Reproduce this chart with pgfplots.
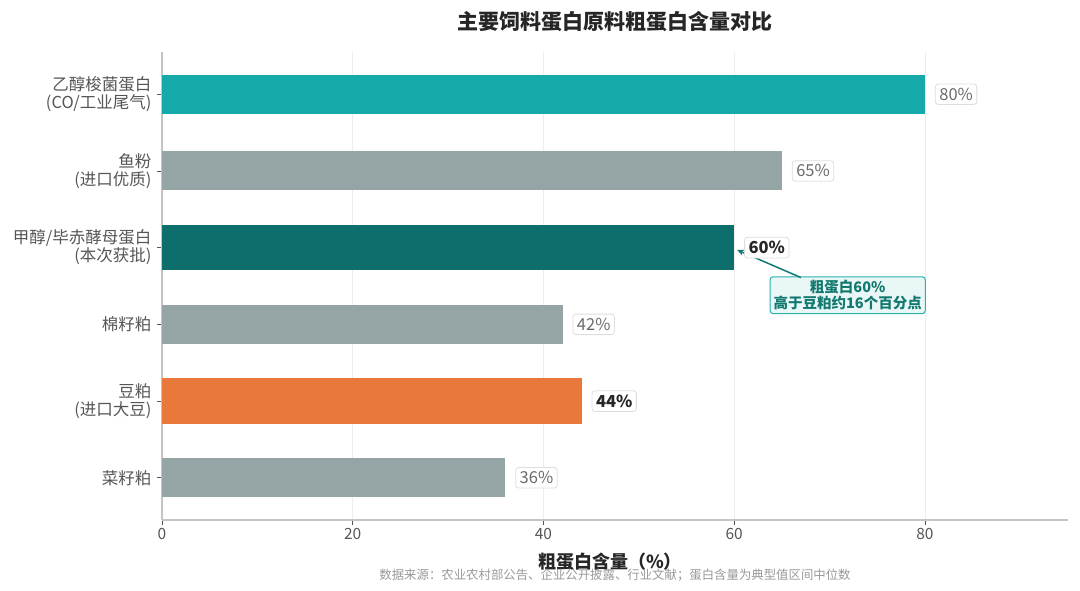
\documentclass[border=0pt]{standalone}
\usepackage{fontspec}
\setmainfont{Noto Sans CJK SC}
\usepackage{pgfplots}
\pgfplotsset{compat=1.18}
\usetikzlibrary{arrows.meta}

\definecolor{barTeal}{HTML}{15A9A9}
\definecolor{barGrey}{HTML}{95A5A6}
\definecolor{barDark}{HTML}{0E6E6B}
\definecolor{barOrange}{HTML}{E8793B}
\definecolor{spine}{HTML}{C4C4C4}
\definecolor{gridc}{HTML}{EDEDED}
\definecolor{labgray}{HTML}{555555}
\definecolor{valgray}{HTML}{6A6A6A}
\definecolor{boxc}{HTML}{DDDDDD}
\definecolor{annFill}{HTML}{E9F8F7}
\definecolor{annDraw}{HTML}{2BB1AD}
\definecolor{annText}{HTML}{13786F}
\definecolor{arrowc}{HTML}{127A74}

\begin{document}
\begin{tikzpicture}
\useasboundingbox (-162pt,-70pt) rectangle (918pt,520pt);
\begin{axis}[
    at={(0pt,0pt)}, anchor=south west,
    scale only axis,
    width=906pt, height=468pt,
    xbar, bar shift=0pt,
    xmin=0, xmax=95,
    ymin=-0.55, ymax=5.55,
    y dir=reverse,
    xtick={0,20,40,60,80},
    ytick={0,1,2,3,4,5},
    yticklabels={
        {乙醇梭菌蛋白\\(CO/工业尾气)},
        {鱼粉\\(进口优质)},
        {甲醇/毕赤酵母蛋白\\(本次获批)},
        {棉籽粕},
        {豆粕\\(进口大豆)},
        {菜籽粕}},
    yticklabel style={align=right, font=\fontsize{16.5}{18}\selectfont, text=labgray, xshift=-2pt},
    xticklabel style={font=\fontsize{15.5}{17}\selectfont, text=labgray},
    /pgf/number format/assume math mode=true,
    axis x line*=bottom,
    axis y line*=left,
    axis line style={draw=spine, line width=1.2pt},
    tick style={draw=labgray, line width=0.7pt},
    major tick length=5pt,
    tick align=outside,
    xmajorgrids,
    grid style={draw=gridc, line width=0.8pt},
    clip=false,
    point meta=x,
    nodes near coords={\pgfmathprintnumber{\pgfplotspointmeta}\%},
    every node near coord/.append style={anchor=west, xshift=10pt,
        draw=boxc, fill=white, rounded corners=3pt, line width=0.8pt,
        inner sep=4pt, text=valgray, font=\fontsize{16.5}{18}\selectfont},
]
\addplot[fill=barTeal, draw=none, bar width=0.51] coordinates {(80,0)};
\addplot[fill=barGrey, draw=none, bar width=0.51] coordinates {(65,1)};
\addplot[fill=barDark, draw=none, bar width=0.59,
    every node near coord/.append style={text=black!85, font=\bfseries\fontsize{16.5}{18}\selectfont}]
    coordinates {(60,2)};
\addplot[fill=barGrey, draw=none, bar width=0.51] coordinates {(42,3)};
\addplot[fill=barOrange, draw=none, bar width=0.59,
    every node near coord/.append style={text=black!85, font=\bfseries\fontsize{16.5}{18}\selectfont}]
    coordinates {(44,4)};
\addplot[fill=barGrey, draw=none, bar width=0.51] coordinates {(36,5)};

\node[draw=annDraw, fill=annFill, rounded corners=3pt, line width=1pt,
      align=center, text=annText, inner sep=3.5pt,
      font=\bfseries\fontsize{14.5}{16}\selectfont]
    at (axis cs:71.9,2.62) {粗蛋白60\%\\高于豆粕约16个百分点};
\draw[-{Stealth[length=7pt,width=6pt]}, draw=arrowc, line width=1.5pt]
    (axis cs:67,2.39) -- (axis cs:60.3,2.03);
\end{axis}

\node[font=\bfseries\fontsize{21}{23}\selectfont, text=black!85] at (453pt,498pt)
    {主要饲料蛋白原料粗蛋白含量对比};
\node[font=\bfseries\fontsize{18}{20}\selectfont, text=black!85] at (448pt,-42pt)
    {粗蛋白含量（\%）};
\node[font=\fontsize{12.4}{14}\selectfont, text=black!40] at (453pt,-55pt)
    {数据来源：农业农村部公告、企业公开披露、行业文献；蛋白含量为典型值区间中位数};
\end{tikzpicture}
\end{document}
